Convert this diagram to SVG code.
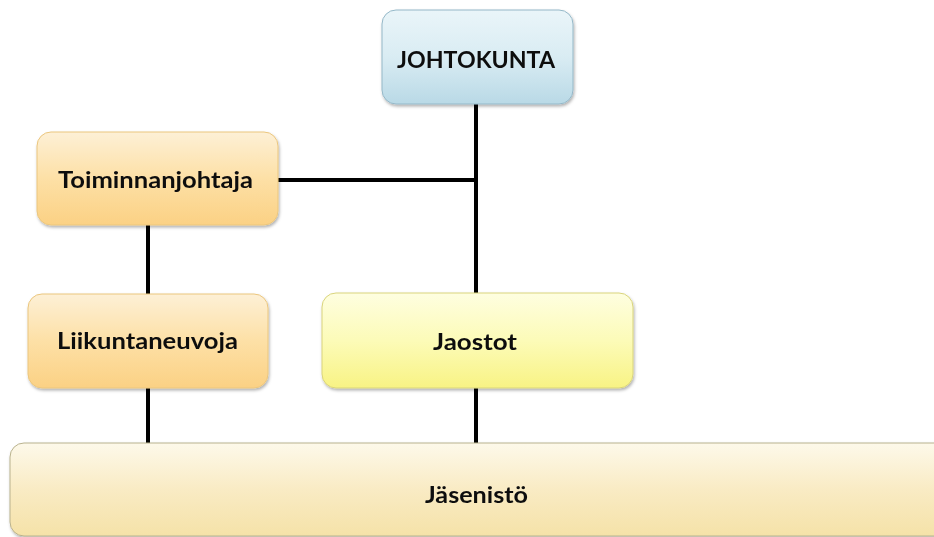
<svg xmlns="http://www.w3.org/2000/svg" width="934" height="537" viewBox="0 0 934 537">
<style>
.lbl{font-family:Lato,"Open Sans","Liberation Sans",sans-serif;font-weight:bold;font-size:23px;fill:#111;text-anchor:middle}
.conn line{stroke:#000;stroke-width:4}
.box{filter:url(#sh)}
</style>
<defs>
<filter id="sh" x="-10%" y="-10%" width="120%" height="130%">
<feDropShadow dx="1" dy="2" stdDeviation="1.5" flood-color="#000" flood-opacity="0.3"/>
</filter>
<linearGradient id="gBlue" x1="0" y1="0" x2="0" y2="1"><stop offset="0" stop-color="#eaf5f9"/><stop offset="0.5" stop-color="#d9ecf3"/><stop offset="1" stop-color="#b9d9e6"/></linearGradient>
<linearGradient id="gOr" x1="0" y1="0" x2="0" y2="1"><stop offset="0" stop-color="#fdf0d6"/><stop offset="0.5" stop-color="#fde0a6"/><stop offset="1" stop-color="#fbd184"/></linearGradient>
<linearGradient id="gYel" x1="0" y1="0" x2="0" y2="1"><stop offset="0" stop-color="#fefee0"/><stop offset="0.5" stop-color="#fcfbb8"/><stop offset="1" stop-color="#f8f384"/></linearGradient>
<linearGradient id="gCream" x1="0" y1="0" x2="0" y2="1"><stop offset="0" stop-color="#fdf9ea"/><stop offset="0.5" stop-color="#f9ebc4"/><stop offset="1" stop-color="#f5e2a8"/></linearGradient>
</defs>
<rect width="934" height="537" fill="#fff"/>
<g class="conn" id="connectors">
<line x1="476" y1="104" x2="476" y2="293"/>
<line x1="278" y1="180" x2="478" y2="180"/>
<line x1="148" y1="225" x2="148" y2="294"/>
<line x1="148" y1="388" x2="148" y2="443"/>
<line x1="476" y1="388" x2="476" y2="443"/>
</g>
<g id="johtokunta" class="box">
<rect x="382" y="10" width="191" height="94" rx="14" fill="url(#gBlue)" stroke="#95b8c8" stroke-width="1"/>
<text class="lbl" x="476" y="68" textLength="158" lengthAdjust="spacingAndGlyphs">JOHTOKUNTA</text>
</g>
<g id="toiminnanjohtaja" class="box">
<rect x="37" y="132" width="241" height="93" rx="14" fill="url(#gOr)" stroke="#ebc67e" stroke-width="1"/>
<text class="lbl" x="155.5" y="188" textLength="195" lengthAdjust="spacingAndGlyphs">Toiminnanjohtaja</text>
</g>
<g id="liikuntaneuvoja" class="box">
<rect x="28" y="294" width="240" height="94" rx="14" fill="url(#gOr)" stroke="#ebc67e" stroke-width="1"/>
<text class="lbl" x="147.5" y="349" textLength="181" lengthAdjust="spacingAndGlyphs">Liikuntaneuvoja</text>
</g>
<g id="jaostot" class="box">
<rect x="322" y="293" width="311" height="95" rx="14" fill="url(#gYel)" stroke="#d9d47c" stroke-width="1"/>
<text class="lbl" x="475" y="350" textLength="84" lengthAdjust="spacingAndGlyphs">Jaostot</text>
</g>
<g id="jasenisto" class="box">
<rect x="10" y="443" width="940" height="93" rx="14" fill="url(#gCream)" stroke="#b9b28e" stroke-width="1"/>
<text class="lbl" x="476.5" y="503" textLength="103" lengthAdjust="spacingAndGlyphs">Jäsenistö</text>
</g>
</svg>
